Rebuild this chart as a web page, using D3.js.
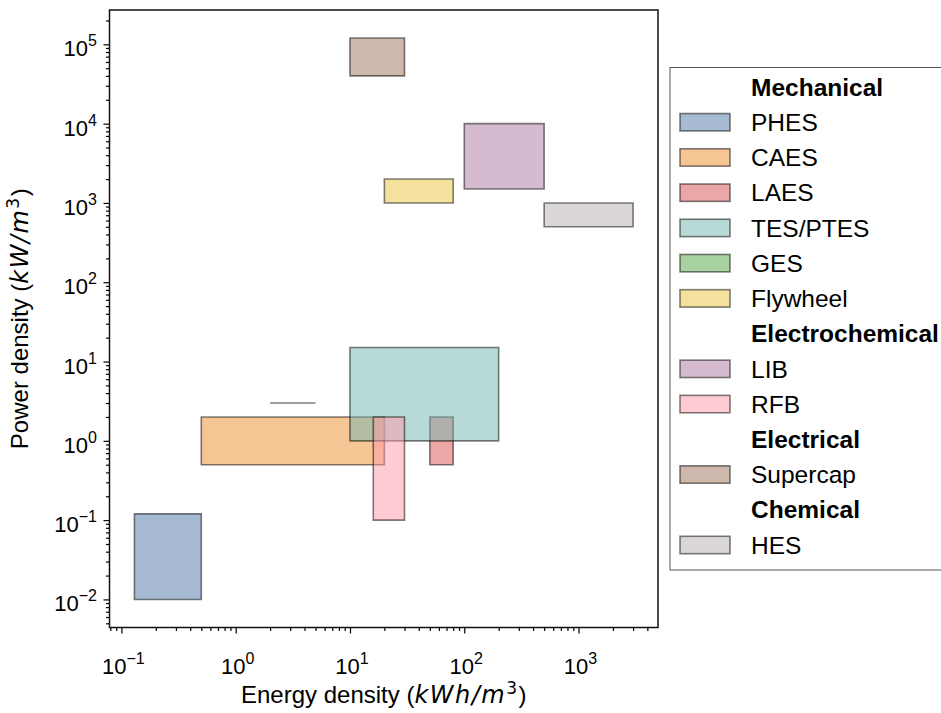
<!DOCTYPE html>
<html>
<head>
<meta charset="utf-8">
<script src="https://cdn.jsdelivr.net/npm/d3@7"></script>
<style>
  body { margin: 0; background: #fff; }
  svg { display: block; font-family: "Liberation Sans", Arial, sans-serif; }
  .math { font-family: "DejaVu Sans", sans-serif; }
</style>
</head>
<body>
<svg id="chart" width="941" height="713"></svg>
<script>
// storage technologies, drawn in this order
const techs = ["PHES", "CAES", "LAES", "TES/PTES", "GES", "Flywheel", "LIB", "RFB", "Supercap", "HES"];
const groups = ["Mechanical", "Mechanical", "Mechanical", "Mechanical", "Mechanical", "Mechanical",
                "Electrochemical", "Electrochemical", "Electrical", "Chemical"];
// energy density range, kWh/m3
const energyMin = [0.13, 0.5, 50, 10, 2, 20, 100, 16, 10, 500];
const energyMax = [0.5, 20, 80, 200, 5, 80, 500, 30, 30, 3000];
// power density range, kW/m3
const powerMin = [0.01, 0.5, 0.5, 1, 3, 1000, 1500, 0.1, 40000, 500];
const powerMax = [0.12, 2, 2, 15, 3, 2000, 10000, 2, 120000, 1000];
const colors = ["#4d75a9", "#ed8b29", "#d74d4d", "#71b5ad", "#51a341",
                "#e7c33b", "#ad77a1", "#ff99a9", "#9b7157", "#b7afad"];
const xTickExp = [-1, 0, 1, 2, 3];
const yTickExp = [-2, -1, 0, 1, 2, 3, 4, 5];

const svg = d3.select("#chart");
const plot = { left: 109.5, right: 658, top: 10, bottom: 627.5 };

// log domain with 5% margins like matplotlib
function logDomain(lo, hi) {
  const a = Math.log10(d3.min(lo)), b = Math.log10(d3.max(hi));
  const m = (b - a) * 0.05;
  return [Math.pow(10, a - m), Math.pow(10, b + m)];
}

const x = d3.scaleLog().domain(logDomain(energyMin, energyMax)).range([plot.left, plot.right]);
const y = d3.scaleLog().domain(logDomain(powerMin, powerMax)).range([plot.bottom, plot.top]);

const rects = techs.map((t, i) => ({
  name: t, color: colors[i],
  x0: energyMin[i], x1: energyMax[i], y0: powerMin[i], y1: powerMax[i]
}));

// boxes as closed paths so zero-height GES still shows its edge
svg.append("g").selectAll("path")
  .data(rects)
  .join("path")
  .attr("d", d => {
    const p = d3.path();
    p.moveTo(x(d.x0), y(d.y0));
    p.lineTo(x(d.x1), y(d.y0));
    p.lineTo(x(d.x1), y(d.y1));
    p.lineTo(x(d.x0), y(d.y1));
    p.closePath();
    return p.toString();
  })
  .attr("fill", d => d.color)
  .attr("fill-opacity", 0.5)
  .attr("stroke", "#000")
  .attr("stroke-opacity", 0.5)
  .attr("stroke-width", 1.6);

// minor ticks 2..9 for each decade in range
function minorTicks(scale) {
  const [a, b] = scale.domain();
  const out = [];
  for (let e = Math.floor(Math.log10(a)); e <= Math.ceil(Math.log10(b)); e++) {
    for (let k = 2; k <= 9; k++) {
      const v = k * Math.pow(10, e);
      if (v >= a && v <= b) out.push(v);
    }
  }
  return out;
}

svg.append("g").attr("transform", `translate(0,${plot.bottom})`)
  .call(d3.axisBottom(x).tickValues(xTickExp.map(e => Math.pow(10, e))).tickFormat("").tickSize(6));
svg.append("g").attr("transform", `translate(0,${plot.bottom})`)
  .call(d3.axisBottom(x).tickValues(minorTicks(x)).tickFormat("").tickSize(3.5));
svg.append("g").attr("transform", `translate(${plot.left},0)`)
  .call(d3.axisLeft(y).tickValues(yTickExp.map(e => Math.pow(10, e))).tickFormat("").tickSize(6));
svg.append("g").attr("transform", `translate(${plot.left},0)`)
  .call(d3.axisLeft(y).tickValues(minorTicks(y)).tickFormat("").tickSize(3.5));

svg.selectAll(".domain").remove();
svg.selectAll(".tick line").attr("stroke", "#000").attr("stroke-width", 1.2);

// frame
svg.append("rect")
  .attr("x", plot.left).attr("y", plot.top)
  .attr("width", plot.right - plot.left).attr("height", plot.bottom - plot.top)
  .attr("fill", "none").attr("stroke", "#111").attr("stroke-width", 1.5);

function powerLabel(sel, e) {
  sel.append("tspan").text("10");
  sel.append("tspan").attr("dy", -10).attr("font-size", 16).text(e < 0 ? "\u2212" + (-e) : e);
}

xTickExp.forEach(e => {
  const t = svg.append("text")
    .attr("x", x(Math.pow(10, e)) + 2).attr("y", 674)
    .attr("text-anchor", "middle").attr("font-size", 22).attr("fill", "#000");
  powerLabel(t, e);
});
yTickExp.forEach(e => {
  const t = svg.append("text")
    .attr("x", 97).attr("y", y(Math.pow(10, e)) + 12)
    .attr("text-anchor", "end").attr("font-size", 22).attr("fill", "#000");
  powerLabel(t, e);
});

// axis titles, unit part in the wider math font
function unitTitle(sel, plain, unit) {
  sel.append("tspan").text(plain + " (");
  const m = sel.append("tspan").attr("class", "math").attr("letter-spacing", 1.5);
  m.append("tspan").attr("font-style", "italic").text(unit);
  m.append("tspan").attr("dy", -9).attr("font-size", 17).text("3");
  sel.append("tspan").attr("dy", 9).text(")");
}

const xt = svg.append("text")
  .attr("x", (plot.left + plot.right) / 2).attr("y", 703)
  .attr("text-anchor", "middle").attr("font-size", 24);
unitTitle(xt, "Energy density", "kWh/m");

const yt = svg.append("text")
  .attr("transform", `translate(28,${(plot.top + plot.bottom) / 2}) rotate(-90)`)
  .attr("text-anchor", "middle").attr("font-size", 24);
unitTitle(yt, "Power density", "kW/m");

// legend with group headers
const legendItems = [];
groups.forEach((g, i) => {
  if (i === 0 || groups[i - 1] !== g) legendItems.push({ header: true, name: g });
  legendItems.push({ header: false, name: techs[i], color: colors[i] });
});

const legend = svg.append("g");
legend.append("rect")
  .attr("x", 670).attr("y", 67.5).attr("width", 290).attr("height", 502.5)
  .attr("fill", "#fff").attr("stroke", "#555").attr("stroke-width", 1);

const rowY = i => 87 + i * 35.23;
const row = legend.selectAll("g.item")
  .data(legendItems)
  .join("g")
  .attr("class", "item")
  .attr("transform", (d, i) => `translate(0,${rowY(i)})`);

row.filter(d => !d.header).append("rect")
  .attr("x", 680).attr("y", -8.7).attr("width", 50).attr("height", 17.4)
  .attr("fill", d => d.color).attr("fill-opacity", 0.5)
  .attr("stroke", "#000").attr("stroke-opacity", 0.5).attr("stroke-width", 1.6);

row.append("text")
  .attr("x", 751).attr("y", 8.7)
  .attr("font-size", 24.5)
  .attr("font-weight", d => d.header ? "bold" : "normal")
  .text(d => d.name);
</script>
</body>
</html>
